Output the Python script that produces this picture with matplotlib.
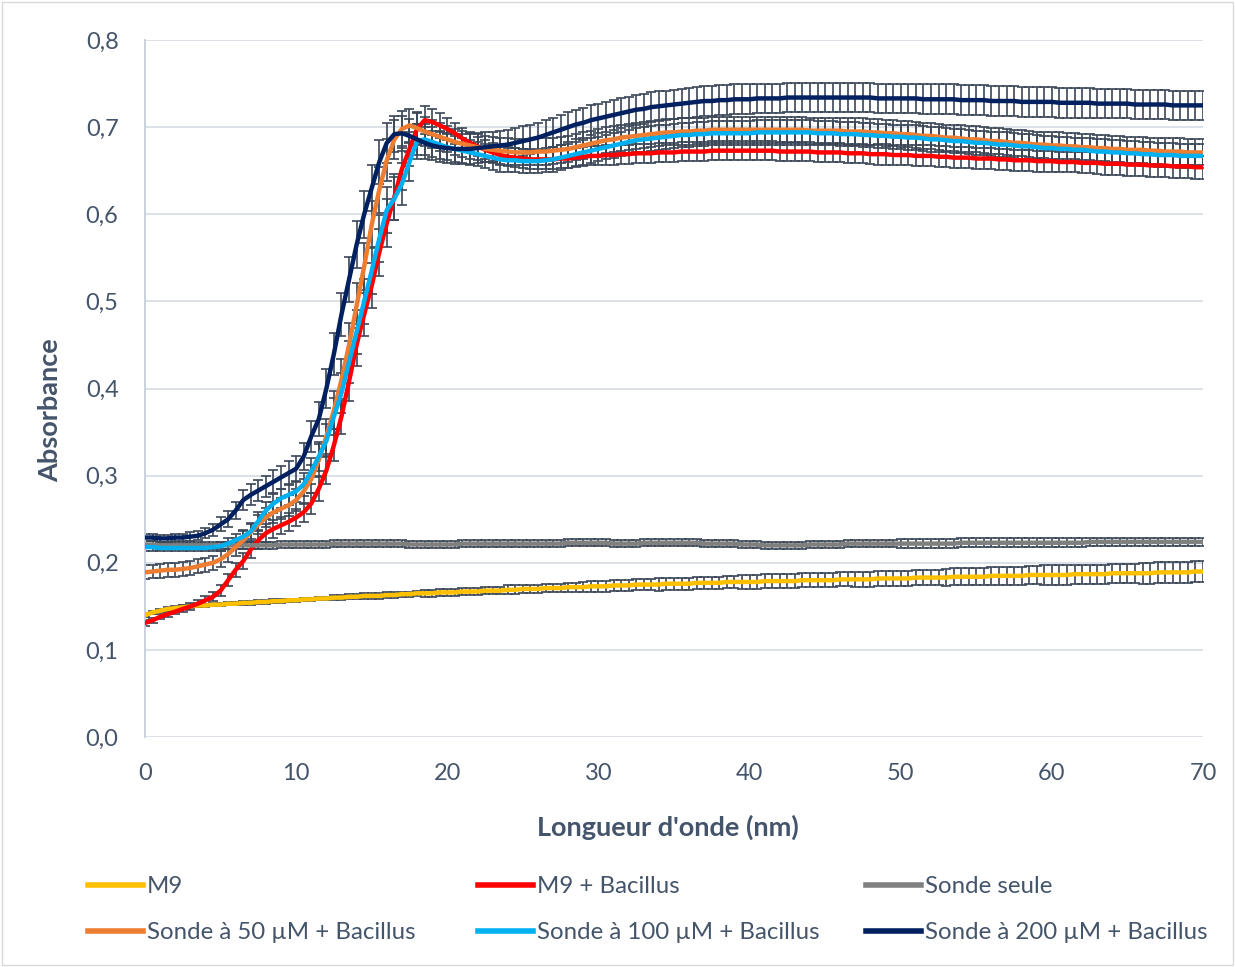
import matplotlib.pyplot as plt
import numpy as np
from matplotlib.ticker import FuncFormatter, MultipleLocator
from matplotlib.patches import Rectangle

# wavelength axis, one reading every 0.5 nm
x = np.arange(0, 70.5, 0.5)

m9 = [0.140, 0.143, 0.145, 0.147, 0.148, 0.149, 0.150, 0.151, 0.151, 0.152,
      0.152, 0.153, 0.153, 0.154, 0.154, 0.155, 0.155, 0.156, 0.156, 0.157,
      0.157, 0.158, 0.158, 0.159, 0.159, 0.160, 0.160, 0.161, 0.161, 0.162,
      0.162, 0.162, 0.163, 0.163, 0.164, 0.164, 0.165, 0.165, 0.165, 0.166,
      0.166, 0.166, 0.167, 0.167, 0.167, 0.168, 0.168, 0.168, 0.169, 0.169,
      0.170, 0.170, 0.170, 0.171, 0.171, 0.171, 0.172, 0.172, 0.172, 0.173,
      0.173, 0.173, 0.174, 0.174, 0.174, 0.175, 0.175, 0.175, 0.175, 0.176,
      0.176, 0.176, 0.176, 0.177, 0.177, 0.177, 0.177, 0.178, 0.178, 0.178,
      0.178, 0.178, 0.179, 0.179, 0.179, 0.179, 0.179, 0.180, 0.180, 0.180,
      0.180, 0.180, 0.181, 0.181, 0.181, 0.181, 0.181, 0.182, 0.182, 0.182,
      0.182, 0.182, 0.183, 0.183, 0.183, 0.183, 0.183, 0.184, 0.184, 0.184,
      0.184, 0.184, 0.185, 0.185, 0.185, 0.185, 0.185, 0.186, 0.186, 0.186,
      0.186, 0.186, 0.186, 0.187, 0.187, 0.187, 0.187, 0.187, 0.188, 0.188,
      0.188, 0.188, 0.188, 0.188, 0.189, 0.189, 0.189, 0.189, 0.189, 0.190,
      0.190]
m9_err = [0.002, 0.002, 0.002, 0.002, 0.002, 0.002, 0.002, 0.002, 0.002, 0.002,
          0.002, 0.002, 0.002, 0.002, 0.002, 0.002, 0.002, 0.002, 0.002, 0.002,
          0.002, 0.002, 0.002, 0.002, 0.002, 0.003, 0.003, 0.003, 0.003, 0.003,
          0.003, 0.003, 0.003, 0.003, 0.003, 0.003, 0.003, 0.004, 0.004, 0.004,
          0.004, 0.004, 0.004, 0.004, 0.004, 0.004, 0.004, 0.004, 0.005, 0.005,
          0.005, 0.005, 0.005, 0.005, 0.005, 0.005, 0.005, 0.005, 0.006, 0.006,
          0.006, 0.006, 0.006, 0.006, 0.006, 0.006, 0.006, 0.006, 0.007, 0.007,
          0.007, 0.007, 0.007, 0.007, 0.007, 0.007, 0.007, 0.007, 0.007, 0.008,
          0.008, 0.008, 0.008, 0.008, 0.008, 0.008, 0.008, 0.008, 0.008, 0.008,
          0.008, 0.008, 0.008, 0.008, 0.009, 0.009, 0.009, 0.009, 0.009, 0.009,
          0.009, 0.009, 0.009, 0.009, 0.009, 0.009, 0.010, 0.010, 0.010, 0.010,
          0.010, 0.010, 0.010, 0.010, 0.010, 0.010, 0.010, 0.010, 0.010, 0.011,
          0.011, 0.011, 0.011, 0.011, 0.011, 0.011, 0.011, 0.011, 0.011, 0.011,
          0.011, 0.011, 0.012, 0.012, 0.012, 0.012, 0.012, 0.012, 0.012, 0.012,
          0.012]

m9_bac = [0.131, 0.134, 0.138, 0.141, 0.144, 0.147, 0.150, 0.153, 0.157, 0.161,
          0.168, 0.180, 0.192, 0.202, 0.215, 0.226, 0.234, 0.239, 0.243, 0.247,
          0.252, 0.258, 0.268, 0.285, 0.306, 0.335, 0.368, 0.408, 0.450, 0.485,
          0.518, 0.556, 0.590, 0.620, 0.652, 0.675, 0.698, 0.708, 0.706, 0.702,
          0.698, 0.693, 0.687, 0.682, 0.678, 0.674, 0.671, 0.668, 0.666, 0.665,
          0.664, 0.663, 0.663, 0.663, 0.663, 0.664, 0.664, 0.665, 0.666, 0.667,
          0.667, 0.668, 0.668, 0.669, 0.669, 0.670, 0.670, 0.670, 0.671, 0.671,
          0.671, 0.672, 0.672, 0.672, 0.672, 0.673, 0.673, 0.673, 0.673, 0.673,
          0.673, 0.673, 0.673, 0.673, 0.672, 0.672, 0.672, 0.672, 0.672, 0.671,
          0.671, 0.671, 0.671, 0.670, 0.670, 0.670, 0.669, 0.669, 0.669, 0.668,
          0.668, 0.668, 0.667, 0.667, 0.667, 0.666, 0.666, 0.665, 0.665, 0.665,
          0.664, 0.664, 0.664, 0.663, 0.663, 0.662, 0.662, 0.662, 0.661, 0.661,
          0.661, 0.660, 0.660, 0.660, 0.659, 0.659, 0.659, 0.658, 0.658, 0.658,
          0.657, 0.657, 0.657, 0.656, 0.656, 0.656, 0.655, 0.655, 0.655, 0.654,
          0.654]
m9_bac_err = [0.003, 0.003, 0.003, 0.003, 0.003, 0.004, 0.004, 0.004, 0.005, 0.005,
              0.006, 0.007, 0.008, 0.009, 0.010, 0.010, 0.010, 0.010, 0.010, 0.010,
              0.010, 0.011, 0.012, 0.014, 0.016, 0.018, 0.020, 0.022, 0.024, 0.025,
              0.026, 0.027, 0.027, 0.026, 0.024, 0.020, 0.018, 0.016, 0.015, 0.014,
              0.013, 0.012, 0.012, 0.011, 0.011, 0.011, 0.011, 0.011, 0.011, 0.011,
              0.011, 0.011, 0.011, 0.011, 0.011, 0.011, 0.011, 0.011, 0.011, 0.011,
              0.011, 0.011, 0.011, 0.011, 0.011, 0.011, 0.011, 0.011, 0.011, 0.011,
              0.011, 0.011, 0.011, 0.011, 0.011, 0.011, 0.011, 0.011, 0.011, 0.011,
              0.011, 0.011, 0.011, 0.011, 0.011, 0.011, 0.011, 0.011, 0.011, 0.011,
              0.011, 0.011, 0.011, 0.011, 0.011, 0.011, 0.011, 0.012, 0.012, 0.012,
              0.012, 0.012, 0.012, 0.012, 0.012, 0.012, 0.012, 0.012, 0.012, 0.012,
              0.012, 0.012, 0.012, 0.012, 0.012, 0.012, 0.012, 0.012, 0.012, 0.012,
              0.012, 0.012, 0.012, 0.012, 0.012, 0.012, 0.013, 0.013, 0.013, 0.013,
              0.013, 0.013, 0.013, 0.013, 0.013, 0.013, 0.013, 0.013, 0.013, 0.013,
              0.013]

sonde = [0.221, 0.221, 0.220, 0.220, 0.220, 0.220, 0.220, 0.220, 0.220, 0.220,
         0.220, 0.220, 0.220, 0.220, 0.220, 0.220, 0.220, 0.220, 0.221, 0.221,
         0.221, 0.221, 0.221, 0.221, 0.221, 0.222, 0.222, 0.222, 0.222, 0.222,
         0.222, 0.222, 0.222, 0.222, 0.222, 0.221, 0.221, 0.221, 0.221, 0.221,
         0.221, 0.221, 0.222, 0.222, 0.222, 0.222, 0.222, 0.222, 0.222, 0.222,
         0.222, 0.222, 0.222, 0.222, 0.222, 0.222, 0.223, 0.223, 0.223, 0.223,
         0.223, 0.223, 0.222, 0.222, 0.222, 0.222, 0.223, 0.223, 0.223, 0.223,
         0.223, 0.223, 0.223, 0.223, 0.222, 0.222, 0.222, 0.222, 0.222, 0.221,
         0.221, 0.221, 0.220, 0.220, 0.220, 0.220, 0.220, 0.220, 0.221, 0.221,
         0.221, 0.221, 0.221, 0.222, 0.222, 0.222, 0.222, 0.222, 0.222, 0.222,
         0.222, 0.222, 0.222, 0.222, 0.222, 0.222, 0.222, 0.222, 0.223, 0.223,
         0.223, 0.223, 0.223, 0.223, 0.223, 0.223, 0.223, 0.223, 0.223, 0.223,
         0.223, 0.223, 0.223, 0.223, 0.223, 0.224, 0.224, 0.224, 0.224, 0.224,
         0.224, 0.224, 0.224, 0.224, 0.224, 0.224, 0.224, 0.224, 0.224, 0.224,
         0.224]
sonde_err = [0.004, 0.004, 0.004, 0.004, 0.004, 0.004, 0.004, 0.004, 0.004, 0.004,
             0.004, 0.004, 0.004, 0.004, 0.004, 0.004, 0.004, 0.004, 0.004, 0.004,
             0.004, 0.004, 0.004, 0.004, 0.004, 0.004, 0.004, 0.004, 0.004, 0.004,
             0.004, 0.004, 0.004, 0.004, 0.004, 0.004, 0.004, 0.004, 0.004, 0.004,
             0.004, 0.004, 0.004, 0.004, 0.004, 0.004, 0.004, 0.004, 0.004, 0.004,
             0.004, 0.004, 0.004, 0.004, 0.004, 0.004, 0.004, 0.004, 0.004, 0.004,
             0.004, 0.004, 0.004, 0.004, 0.004, 0.004, 0.004, 0.004, 0.004, 0.004,
             0.004, 0.004, 0.004, 0.004, 0.004, 0.004, 0.004, 0.004, 0.004, 0.004,
             0.004, 0.004, 0.004, 0.004, 0.004, 0.004, 0.004, 0.004, 0.004, 0.004,
             0.004, 0.004, 0.004, 0.004, 0.004, 0.004, 0.004, 0.004, 0.004, 0.004,
             0.005, 0.005, 0.005, 0.005, 0.005, 0.005, 0.005, 0.005, 0.005, 0.005,
             0.005, 0.005, 0.005, 0.005, 0.005, 0.005, 0.005, 0.005, 0.005, 0.005,
             0.005, 0.005, 0.005, 0.005, 0.005, 0.005, 0.005, 0.005, 0.005, 0.005,
             0.005, 0.005, 0.005, 0.005, 0.005, 0.005, 0.005, 0.005, 0.005, 0.005,
             0.005]

sonde50 = [0.189, 0.190, 0.191, 0.192, 0.192, 0.193, 0.194, 0.196, 0.198, 0.200,
           0.204, 0.210, 0.218, 0.226, 0.235, 0.244, 0.252, 0.258, 0.262, 0.266,
           0.272, 0.282, 0.296, 0.318, 0.345, 0.375, 0.410, 0.450, 0.495, 0.540,
           0.588, 0.628, 0.662, 0.686, 0.698, 0.702, 0.699, 0.695, 0.692, 0.689,
           0.686, 0.683, 0.681, 0.679, 0.677, 0.675, 0.674, 0.673, 0.672, 0.671,
           0.671, 0.671, 0.672, 0.672, 0.673, 0.674, 0.675, 0.677, 0.679, 0.681,
           0.683, 0.685, 0.686, 0.688, 0.689, 0.690, 0.691, 0.692, 0.693, 0.694,
           0.694, 0.695, 0.695, 0.696, 0.696, 0.697, 0.697, 0.697, 0.697, 0.697,
           0.697, 0.697, 0.697, 0.697, 0.697, 0.697, 0.697, 0.697, 0.696, 0.696,
           0.696, 0.696, 0.696, 0.695, 0.695, 0.695, 0.694, 0.694, 0.693, 0.693,
           0.692, 0.692, 0.691, 0.690, 0.690, 0.689, 0.688, 0.688, 0.687, 0.686,
           0.686, 0.685, 0.684, 0.684, 0.683, 0.682, 0.682, 0.681, 0.680, 0.680,
           0.679, 0.679, 0.678, 0.678, 0.677, 0.677, 0.676, 0.676, 0.675, 0.675,
           0.674, 0.674, 0.674, 0.673, 0.673, 0.672, 0.672, 0.672, 0.671, 0.671,
           0.671]
sonde50_err = [0.008, 0.008, 0.008, 0.008, 0.008, 0.008, 0.008, 0.008, 0.008, 0.008,
               0.009, 0.009, 0.010, 0.010, 0.011, 0.011, 0.011, 0.012, 0.012, 0.012,
               0.013, 0.014, 0.016, 0.018, 0.020, 0.022, 0.024, 0.025, 0.026, 0.027,
               0.027, 0.026, 0.024, 0.022, 0.020, 0.019, 0.018, 0.017, 0.016, 0.016,
               0.015, 0.015, 0.015, 0.015, 0.015, 0.015, 0.015, 0.015, 0.015, 0.015,
               0.015, 0.015, 0.015, 0.015, 0.015, 0.015, 0.015, 0.015, 0.015, 0.015,
               0.015, 0.015, 0.015, 0.015, 0.015, 0.015, 0.015, 0.015, 0.015, 0.015,
               0.015, 0.015, 0.015, 0.015, 0.015, 0.015, 0.015, 0.015, 0.015, 0.015,
               0.015, 0.015, 0.015, 0.015, 0.015, 0.015, 0.015, 0.015, 0.015, 0.015,
               0.015, 0.015, 0.015, 0.015, 0.015, 0.015, 0.015, 0.015, 0.015, 0.015,
               0.015, 0.015, 0.015, 0.015, 0.015, 0.015, 0.015, 0.015, 0.015, 0.015,
               0.015, 0.015, 0.015, 0.015, 0.015, 0.015, 0.015, 0.015, 0.015, 0.015,
               0.015, 0.015, 0.015, 0.015, 0.015, 0.015, 0.015, 0.015, 0.015, 0.015,
               0.015, 0.015, 0.015, 0.015, 0.015, 0.015, 0.015, 0.015, 0.015, 0.015,
               0.015]

sonde100 = [0.218, 0.218, 0.217, 0.217, 0.217, 0.217, 0.217, 0.217, 0.217, 0.218,
            0.219, 0.222, 0.226, 0.230, 0.236, 0.248, 0.260, 0.268, 0.274, 0.278,
            0.282, 0.290, 0.305, 0.322, 0.340, 0.368, 0.395, 0.430, 0.465, 0.500,
            0.535, 0.572, 0.605, 0.618, 0.635, 0.660, 0.684, 0.686, 0.683, 0.680,
            0.677, 0.675, 0.673, 0.671, 0.669, 0.667, 0.665, 0.663, 0.662, 0.662,
            0.661, 0.661, 0.661, 0.662, 0.663, 0.665, 0.667, 0.669, 0.671, 0.673,
            0.675, 0.677, 0.679, 0.681, 0.683, 0.685, 0.686, 0.687, 0.688, 0.689,
            0.690, 0.691, 0.691, 0.692, 0.692, 0.693, 0.693, 0.693, 0.693, 0.693,
            0.693, 0.694, 0.694, 0.694, 0.694, 0.694, 0.694, 0.694, 0.694, 0.693,
            0.693, 0.693, 0.692, 0.692, 0.692, 0.691, 0.691, 0.690, 0.690, 0.689,
            0.689, 0.688, 0.688, 0.687, 0.686, 0.686, 0.685, 0.684, 0.684, 0.683,
            0.682, 0.682, 0.681, 0.680, 0.680, 0.679, 0.678, 0.678, 0.677, 0.676,
            0.676, 0.675, 0.675, 0.674, 0.674, 0.673, 0.672, 0.672, 0.671, 0.671,
            0.670, 0.670, 0.669, 0.669, 0.668, 0.668, 0.668, 0.667, 0.667, 0.667,
            0.667]
sonde100_err = [0.004, 0.004, 0.004, 0.004, 0.004, 0.004, 0.004, 0.004, 0.004, 0.004,
                0.005, 0.006, 0.007, 0.008, 0.009, 0.010, 0.010, 0.011, 0.011, 0.012,
                0.012, 0.013, 0.015, 0.017, 0.019, 0.021, 0.023, 0.024, 0.025, 0.026,
                0.027, 0.027, 0.026, 0.025, 0.024, 0.022, 0.020, 0.018, 0.017, 0.016,
                0.015, 0.015, 0.014, 0.014, 0.014, 0.014, 0.014, 0.014, 0.014, 0.014,
                0.014, 0.014, 0.014, 0.014, 0.014, 0.014, 0.014, 0.014, 0.014, 0.014,
                0.014, 0.014, 0.014, 0.014, 0.014, 0.014, 0.014, 0.014, 0.014, 0.014,
                0.014, 0.014, 0.014, 0.014, 0.014, 0.014, 0.014, 0.014, 0.014, 0.014,
                0.014, 0.014, 0.014, 0.014, 0.014, 0.014, 0.014, 0.014, 0.014, 0.014,
                0.014, 0.014, 0.014, 0.014, 0.014, 0.014, 0.014, 0.014, 0.014, 0.014,
                0.014, 0.014, 0.014, 0.014, 0.014, 0.014, 0.014, 0.014, 0.014, 0.014,
                0.014, 0.014, 0.014, 0.014, 0.014, 0.014, 0.014, 0.014, 0.014, 0.014,
                0.014, 0.014, 0.014, 0.014, 0.014, 0.014, 0.014, 0.014, 0.014, 0.014,
                0.014, 0.014, 0.014, 0.014, 0.014, 0.014, 0.014, 0.014, 0.014, 0.014,
                0.014]

sonde200 = [0.229, 0.229, 0.228, 0.228, 0.229, 0.229, 0.230, 0.231, 0.234, 0.238,
            0.244, 0.250, 0.260, 0.272, 0.278, 0.283, 0.288, 0.293, 0.298, 0.303,
            0.308, 0.322, 0.345, 0.365, 0.400, 0.440, 0.485, 0.525, 0.565, 0.600,
            0.630, 0.660, 0.682, 0.692, 0.693, 0.690, 0.686, 0.682, 0.679, 0.677,
            0.676, 0.675, 0.675, 0.675, 0.676, 0.677, 0.678, 0.679, 0.680, 0.682,
            0.684, 0.686, 0.688, 0.691, 0.694, 0.697, 0.700, 0.703, 0.705, 0.708,
            0.710, 0.712, 0.714, 0.716, 0.718, 0.720, 0.721, 0.723, 0.724, 0.725,
            0.726, 0.727, 0.728, 0.729, 0.730, 0.730, 0.731, 0.731, 0.732, 0.732,
            0.732, 0.733, 0.733, 0.733, 0.733, 0.734, 0.734, 0.734, 0.734, 0.734,
            0.734, 0.734, 0.734, 0.734, 0.734, 0.734, 0.734, 0.733, 0.733, 0.733,
            0.733, 0.733, 0.733, 0.732, 0.732, 0.732, 0.732, 0.732, 0.731, 0.731,
            0.731, 0.731, 0.730, 0.730, 0.730, 0.730, 0.729, 0.729, 0.729, 0.729,
            0.729, 0.728, 0.728, 0.728, 0.728, 0.728, 0.727, 0.727, 0.727, 0.727,
            0.727, 0.726, 0.726, 0.726, 0.726, 0.726, 0.725, 0.725, 0.725, 0.725,
            0.725]
sonde200_err = [0.004, 0.004, 0.004, 0.004, 0.004, 0.004, 0.005, 0.005, 0.006, 0.007,
                0.008, 0.009, 0.010, 0.011, 0.012, 0.012, 0.012, 0.013, 0.013, 0.014,
                0.015, 0.016, 0.018, 0.020, 0.022, 0.024, 0.025, 0.026, 0.027, 0.027,
                0.026, 0.025, 0.023, 0.021, 0.020, 0.019, 0.018, 0.018, 0.017, 0.017,
                0.017, 0.017, 0.017, 0.017, 0.017, 0.017, 0.017, 0.017, 0.017, 0.017,
                0.017, 0.017, 0.017, 0.017, 0.017, 0.017, 0.017, 0.017, 0.017, 0.017,
                0.017, 0.017, 0.017, 0.017, 0.017, 0.017, 0.017, 0.017, 0.017, 0.017,
                0.017, 0.017, 0.017, 0.017, 0.017, 0.017, 0.017, 0.017, 0.017, 0.017,
                0.017, 0.017, 0.017, 0.017, 0.017, 0.017, 0.017, 0.017, 0.017, 0.017,
                0.017, 0.017, 0.017, 0.017, 0.017, 0.017, 0.017, 0.017, 0.017, 0.017,
                0.017, 0.017, 0.017, 0.017, 0.017, 0.017, 0.017, 0.017, 0.017, 0.017,
                0.017, 0.017, 0.017, 0.017, 0.017, 0.017, 0.017, 0.017, 0.017, 0.017,
                0.017, 0.017, 0.017, 0.017, 0.017, 0.017, 0.017, 0.017, 0.017, 0.017,
                0.017, 0.017, 0.017, 0.017, 0.017, 0.017, 0.017, 0.017, 0.017, 0.017,
                0.017]

labels = ["M9", "M9 + Bacillus", "Sonde seule", "Sonde à 50 µM + Bacillus",
          "Sonde à 100 µM + Bacillus", "Sonde à 200 µM + Bacillus"]
colors = ["#FFC000", "#FF0000", "#808080", "#ED7D31", "#00B0F0", "#002060"]
series = [m9, m9_bac, sonde, sonde50, sonde100, sonde200]
errors = [m9_err, m9_bac_err, sonde_err, sonde50_err, sonde100_err, sonde200_err]

text_col = "#44546A"
plt.rcParams['font.family'] = ['Lato', 'DejaVu Sans']

fig = plt.figure(figsize=(12.35, 9.67), dpi=100)
ax = fig.add_axes([0.1174, 0.2378, 0.8567, 0.7208])

# error bars first, lines on top
for y, e in zip(series, errors):
    ax.errorbar(x, y, yerr=e, fmt='none', ecolor='#3A4556', elinewidth=1.2,
                capsize=3.5, capthick=1.2, zorder=2)
handles = []
for i, (y, c, lab) in enumerate(zip(series, colors, labels)):
    h, = ax.plot(x, y, color=c, lw=3.2, label=lab, zorder=3 + i,
                 solid_joinstyle='round')
    handles.append(h)

ax.set_xlim(0, 70)
ax.set_ylim(0, 0.8)
ax.xaxis.set_major_locator(MultipleLocator(10))
ax.yaxis.set_major_locator(MultipleLocator(0.1))
ax.yaxis.set_major_formatter(FuncFormatter(lambda v, p: ('%.1f' % v).replace('.', ',')))
ax.grid(axis='y', color='#D9DEE6', lw=1.3, zorder=0)
for s in ['top', 'right', 'bottom']:
    ax.spines[s].set_visible(False)
ax.spines['left'].set_color('#C5CEDC')
ax.spines['left'].set_linewidth(1.3)
ax.tick_params(axis='both', length=0, labelsize=17, colors=text_col)
ax.tick_params(axis='y', pad=19)
ax.tick_params(axis='x', pad=19)

ax.set_xlabel("Longueur d'onde (nm)", fontsize=19.5, fontweight='bold',
              color=text_col, labelpad=22, x=0.494)
ax.set_ylabel("Absorbance", fontsize=19.5, fontweight='bold', color=text_col,
              labelpad=17, y=0.469)

# legend: three columns laid out on a fixed grid like the spreadsheet one
col_x = [88 / 1235, 478 / 1235, 866 / 1235]
cols = [[0, 3], [1, 4], [2, 5]]
for cx, idx in zip(col_x, cols):
    leg = fig.legend([handles[i] for i in idx], [labels[i] for i in idx],
                     loc='upper left', bbox_to_anchor=(cx, 1 - 876 / 967),
                     frameon=False, fontsize=17.3, handlelength=2.3,
                     handletextpad=0.15, labelspacing=1.05, borderpad=0,
                     borderaxespad=0)
    for t in leg.get_texts():
        t.set_color(text_col)
    for l in leg.get_lines():
        l.set_linewidth(4)

fig.patches.append(Rectangle((0.002, 0.002), 0.996, 0.996, transform=fig.transFigure,
                             fill=False, edgecolor='#D9D9D9', lw=1))

plt.savefig('out.png', dpi=100)
